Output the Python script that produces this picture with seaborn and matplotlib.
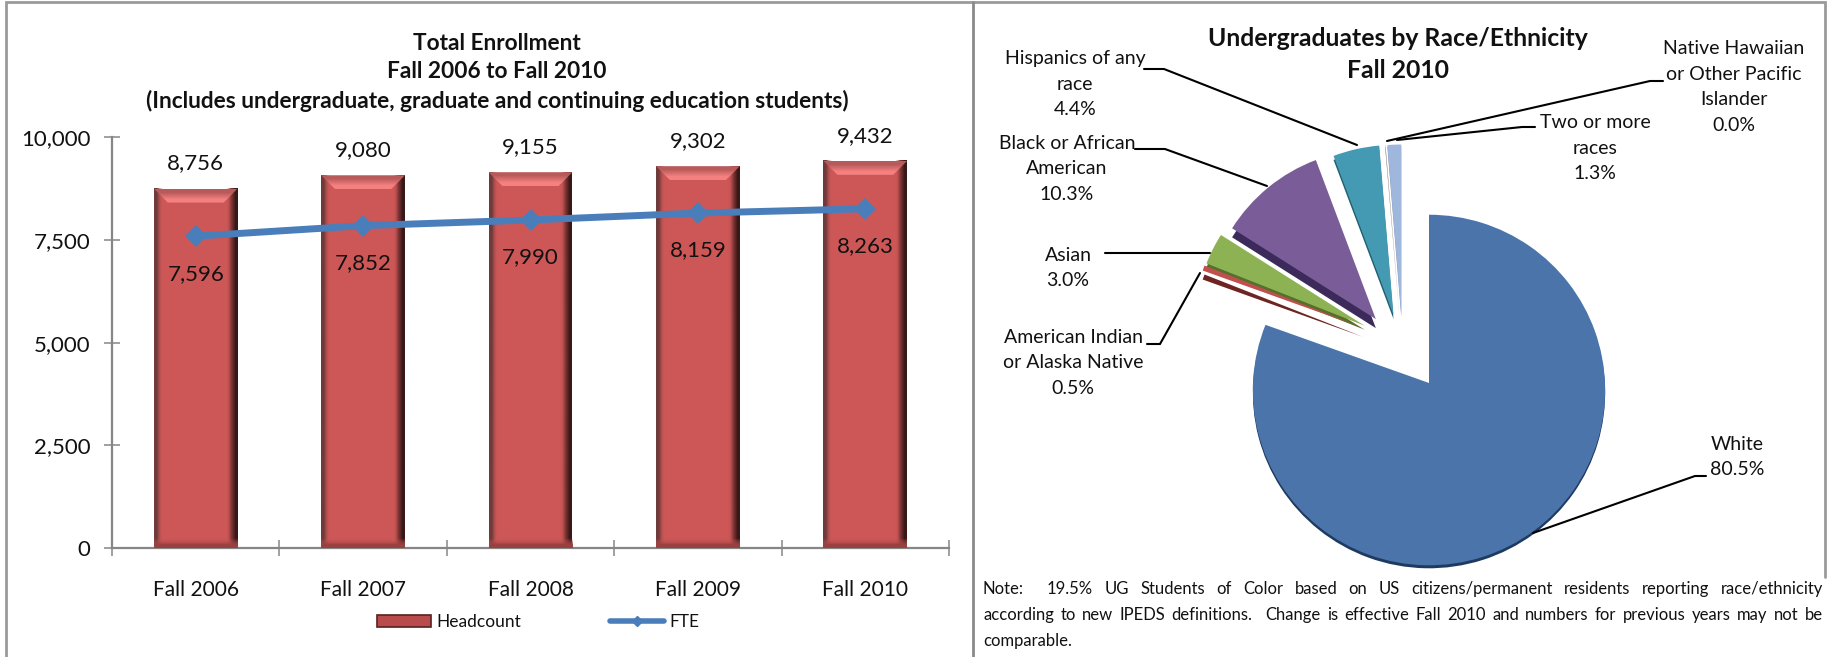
import numpy as np
import pandas as pd
import seaborn as sns
import matplotlib
matplotlib.use("Agg")
import matplotlib.pyplot as plt
from matplotlib.colors import LinearSegmentedColormap
from matplotlib.lines import Line2D
from matplotlib.patches import Patch, Polygon
from matplotlib.transforms import Affine2D, Transform

terms = ["Fall 2006", "Fall 2007", "Fall 2008", "Fall 2009", "Fall 2010"]
headcount = [8756, 9080, 9155, 9302, 9432]
fte = [7596, 7852, 7990, 8159, 8263]
y_ticks = [0, 2500, 5000, 7500, 10000]

race_labels = ["White", "American Indian\nor Alaska Native", "Asian", "Black or African\nAmerican",
               "Hispanics of any\nrace", "Native Hawaiian\nor Other Pacific\nIslander", "Two or more\nraces"]
race_share = [80.5, 0.5, 3.0, 10.3, 4.4, 0.04, 1.3]
race_colors = ["#4A74AA", "#C0504D", "#8DB254", "#7A5C99", "#4499B3", "#B0A8A0", "#9FB6DD"]
race_sides = ["#1F3A60", "#6E2522", "#55702A", "#3C2B5A", "#22606F", "#807870", "#8090B5"]
side_depth = [3, 9, 4, 9, 4, 2, 2]

note_lines = ["Note:  19.5% UG Students of Color based on US citizens/permanent residents reporting race/ethnicity",
              "according to new IPEDS definitions.  Change is effective Fall 2010 and numbers for previous years may not be",
              "comparable."]

W, H = 1827, 657
sns.set_style("white")
plt.rcParams["font.family"] = ["Lato", "DejaVu Sans"]
fig = plt.figure(figsize=(W / 100, H / 100), dpi=100)
GRAY = "#868686"
TXT = "#111111"


def fx(x):
    return x / W


def fy(y):
    return 1 - y / H


def seg(*pts, color="black", lw=1.5):
    fig.add_artist(Line2D([fx(p[0]) for p in pts], [fy(p[1]) for p in pts], color=color, lw=lw,
                          transform=fig.transFigure, solid_joinstyle="miter", zorder=8))


# panel frames
seg((6, 657), (6, 2), (1825, 2), (1825, 577), color="#9A9A9A", lw=2)
seg((973, 2), (973, 657), color="#8A8A8A", lw=2)

# ---- left panel ----
ax = fig.add_axes([fx(112), fy(548), (949 - 112) / W, (548 - 137.5) / H])
df = pd.DataFrame({"term": terms, "Headcount": headcount, "FTE": fte})
sns.barplot(data=df, x="term", y="Headcount", color="#CD5757", saturation=1, width=0.5, ax=ax, zorder=2)
bars = list(ax.patches)
sns.lineplot(data=df, x="term", y="FTE", color="#4A7EBB", lw=5, marker="D", markersize=11,
             markeredgewidth=0, sort=False, ax=ax, zorder=5)
ax.set_xlim(-0.5, 4.5)
ax.set_ylim(0, 10000)
edge_r = LinearSegmentedColormap.from_list("r", ["#CD575700", "#8A3A3A", "#3A1818"])
edge_l = LinearSegmentedColormap.from_list("l", ["#6E3A3A", "#CD575700"])
edge_b = LinearSegmentedColormap.from_list("b", ["#CD575700", "#9A4040"])
edge_t = LinearSegmentedColormap.from_list("t", ["#B85A5A", "#F58080"])
for b in bars:
    x0, w, h = b.get_x(), b.get_width(), b.get_height()
    x1 = x0 + w
    dx, dy = w * 14 / 84, 10000 * 14 / 410.5
    ax.imshow([[0, 1]], cmap=edge_l, extent=(x0, x0 + dx * 0.8, 0, h), aspect="auto", zorder=3, interpolation="bilinear")
    ax.imshow([[0, 0.5, 1]], cmap=edge_r, extent=(x1 - dx, x1, 0, h), aspect="auto", zorder=3, interpolation="bilinear")
    ax.imshow([[0], [1]], cmap=edge_b, extent=(x0, x1, 0, dy * 0.9), aspect="auto", zorder=3, interpolation="bilinear")
    im = ax.imshow([[0], [1]], cmap=edge_t, extent=(x0, x1, h - dy, h), aspect="auto", zorder=4, interpolation="bilinear")
    im.set_clip_path(Polygon([(x0, h), (x1, h), (x1 - dx, h - dy), (x0 + dx, h - dy)], transform=ax.transData))
ax.set_xlim(-0.5, 4.5)
ax.set_ylim(0, 10000)
ax.patch.set_alpha(0)
for i, (hc, ft) in enumerate(zip(headcount, fte)):
    ax.annotate(f"{hc:,}", (i, hc), xytext=(0, 18), textcoords="offset points", ha="center", va="center",
                fontsize=16, color=TXT, zorder=6)
    ax.annotate(f"{ft:,}", (i, ft), xytext=(0, -27), textcoords="offset points", ha="center", va="center",
                fontsize=16, color=TXT, zorder=6)
ax.set_xlabel("")
ax.set_ylabel("")
ax.set_yticks(y_ticks, [f"{v:,}" for v in y_ticks], fontsize=16, color=TXT)
ax.set_xticks(range(len(terms)), terms, fontsize=15, color=TXT)
ax.set_xticks(np.arange(len(terms) + 1) - 0.5, minor=True)
ax.tick_params(axis="x", which="major", length=0, pad=23, bottom=True)
ax.tick_params(axis="x", which="minor", direction="inout", length=11, width=1.1, color=GRAY, bottom=True)
ax.tick_params(axis="y", which="major", direction="inout", length=11, width=1.1, color=GRAY, left=True, pad=10)
sns.despine(ax=ax)
for s in ("left", "bottom"):
    ax.spines[s].set_color(GRAY)
    ax.spines[s].set_linewidth(1.6)
for i, line in enumerate(["Total Enrollment", "Fall 2006 to Fall 2010",
                          "(Includes undergraduate, graduate and continuing education students)"]):
    fig.text(fx(497), fy(43 + 29 * i), line, ha="center", va="center", fontsize=16.3, fontweight="bold", color=TXT)
leg = ax.legend([Patch(fc="#B84C4C", ec="#5A2020", lw=1.2), Line2D([], [], color="#4A7EBB", lw=4, marker="D", markersize=5)],
                ["Headcount", "FTE"], ncol=2, frameon=False, fontsize=12.5, handlelength=3.1, handletextpad=0.3,
                columnspacing=5.15, loc="center", bbox_to_anchor=(fx(538), fy(622)), bbox_transform=fig.transFigure)
for t in leg.get_texts():
    t.set_color(TXT)


# ---- right panel ----
class Perspective(Transform):
    input_dims = output_dims = 2

    def __init__(self, k):
        super().__init__()
        self.k = k

    def transform_non_affine(self, v):
        v = np.asarray(v)
        d = 1 + self.k * v[:, 1]
        return np.column_stack([v[:, 0] / d, v[:, 1] / d])


pax = fig.add_axes([0, 0, 1, 1])
E = 0.2
explode = [E] * len(race_share)
flat = {"linewidth": 0, "edgecolor": "none"}
back, _ = pax.pie(race_share, colors=race_sides, explode=explode, startangle=90, counterclock=False, wedgeprops=flat)
front, _ = pax.pie(race_share, colors=race_colors, explode=explode, startangle=90, counterclock=False, wedgeprops=flat)
pax.set_aspect("auto")
pax.set_xlim(0, W)
pax.set_ylim(H, 0)
pax.axis("off")
pax.patch.set_alpha(0)

# the big slice sits on a tilted plane; the small exploded slices fan out round a common hub
HUB_X, HUB_Y, HUB_DX, HUB_DY, SMALL_R = 1403, 335, 215, 102.5, 170
BIG_X, BIG_Y, BIG_A, BIG_B, BIG_K = 1429, 383, 175, 176, 0.04


def place(wedge, index, shift):
    cx, cy = wedge.center
    to_apex = Affine2D().translate(-cx, -cy)
    if index == 0:
        tr = to_apex + Perspective(BIG_K) + Affine2D().scale(BIG_B, -BIG_A).translate(BIG_X, BIG_Y + shift)
    else:
        tr = to_apex + Affine2D().scale(SMALL_R, -SMALL_R).translate(HUB_X + cx * HUB_DX, HUB_Y - cy * HUB_DY + shift)
    wedge.set_transform(tr + pax.transData)


for i, (wb, wf, depth) in enumerate(zip(back, front, side_depth)):
    place(wb, i, depth)
    place(wf, i, 0)
    wb.set_zorder(2 + 2 * (i > 0))
    wf.set_zorder(3 + 2 * (i > 0))

for i, line in enumerate(["Undergraduates by Race/Ethnicity", "Fall 2010"]):
    fig.text(fx(1398), fy(39 + 31 * i), line, ha="center", va="center", fontsize=17.8, fontweight="bold", color=TXT)

label_pos = [(1737, 457), (1073, 363), (1068, 268), (1067, 169), (1075, 84), (1734, 87), (1595, 148)]
for name, share, (x, y) in zip(race_labels, race_share, label_pos):
    fig.text(fx(x), fy(y), f"{name}\n{share:.1f}%", ha="center", va="center", multialignment="center",
             fontsize=14, linespacing=1.6, color=TXT)

seg((1144, 69), (1164, 69), (1357, 145))
seg((1135, 149), (1165, 149), (1267, 186))
seg((1105, 253), (1210, 253))
seg((1147, 344), (1160, 344), (1200, 273))
seg((1387, 141), (1650, 81), (1663, 81))
seg((1397, 140), (1522, 127), (1535, 127))
seg((1533, 533), (1695, 476), (1706, 476))

# justified note
renderer = fig.canvas.get_renderer()
NOTE_L, NOTE_R = 983, 1823
for i, line in enumerate(note_lines):
    y = fy(589 + 26 * i)
    if i == len(note_lines) - 1:
        fig.text(fx(NOTE_L), y, line, ha="left", va="center", fontsize=12, color=TXT)
        continue
    words = line.replace("  ", " ~ ").split(" ")
    tokens = [w for w in words if w != "~"]
    widths = []
    for w in tokens:
        t = fig.text(0, 0, w, fontsize=12)
        widths.append(t.get_window_extent(renderer).width)
        t.remove()
    weights = []
    for j, w in enumerate(words):
        if w == "~":
            weights[-1] += 1
        elif j < len(words) - 1:
            weights.append(1)
    unit = (NOTE_R - NOTE_L - sum(widths)) / sum(weights)
    x = NOTE_L
    for j, w in enumerate(tokens):
        fig.text(fx(x), y, w, ha="left", va="center", fontsize=12, color=TXT)
        x += widths[j] + (weights[j] * unit if j < len(weights) else 0)

fig.savefig("out.png", dpi=100)
